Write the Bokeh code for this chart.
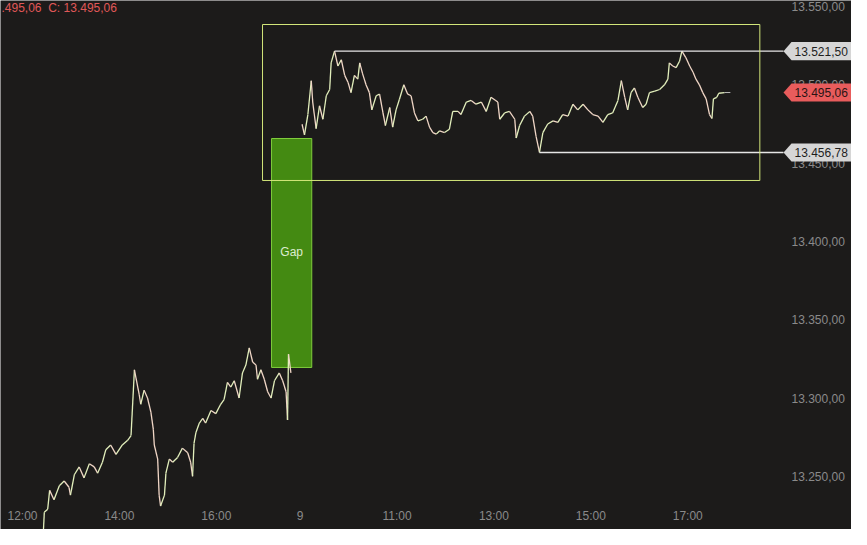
from bokeh.plotting import figure
from bokeh.models import Range1d, FixedTicker, BoxAnnotation, PolyAnnotation, Label
from bokeh.embed import file_html
from bokeh.resources import INLINE

# ---- data ----
# session 1 (previous day), decimal clock hours and prices
day1_hours = [
    12.43, 12.45, 12.52, 12.56, 12.65, 12.76, 12.86, 12.96,
    12.99, 13.07, 13.17, 13.27, 13.38, 13.48, 13.55, 13.65,
    13.72, 13.82, 13.93, 14.06, 14.17, 14.24, 14.31, 14.41,
    14.44, 14.51, 14.58, 14.65, 14.70, 14.72, 14.79, 14.82,
    14.85, 14.93, 14.96, 15.03, 15.10, 15.20, 15.30, 15.41,
    15.47, 15.51, 15.54, 15.58, 15.65, 15.72, 15.78, 15.89,
    15.99, 16.09, 16.16, 16.23, 16.30, 16.37, 16.47, 16.54,
    16.61, 16.68, 16.75, 16.82, 16.85, 16.92, 16.99, 17.06,
    17.13, 17.20, 17.30, 17.37, 17.44, 17.47, 17.49, 17.54,
]
day1_prices = [
    13214, 13227, 13229, 13241, 13235, 13244, 13247, 13243,
    13238, 13251, 13256, 13249, 13258, 13256, 13252, 13259,
    13267, 13270, 13264, 13270, 13273, 13276, 13318, 13302,
    13296, 13305, 13300, 13291, 13280, 13270, 13261, 13238,
    13231, 13238, 13252, 13261, 13259, 13262, 13268, 13265,
    13259, 13250, 13271, 13278, 13284, 13287, 13284, 13292,
    13290, 13296, 13299, 13310, 13307, 13311, 13300, 13316,
    13321, 13332, 13323, 13321, 13312, 13318, 13312, 13304,
    13300, 13311, 13316, 13311, 13304, 13286, 13328, 13316,
]
# session 2 (the 9th)
day2_hours = [
    9.04, 9.09, 9.16, 9.23, 9.26, 9.33, 9.40, 9.47,
    9.54, 9.61, 9.64, 9.71, 9.78, 9.85, 9.92, 9.99,
    10.05, 10.12, 10.19, 10.23, 10.29, 10.36, 10.43, 10.48,
    10.57, 10.64, 10.71, 10.76, 10.85, 10.91, 10.98, 11.05,
    11.14, 11.22, 11.29, 11.36, 11.43, 11.53, 11.60, 11.67,
    11.74, 11.81, 11.88, 11.98, 12.08, 12.15, 12.26, 12.32,
    12.43, 12.53, 12.63, 12.74, 12.84, 12.94, 13.08, 13.12,
    13.22, 13.32, 13.43, 13.46, 13.53, 13.63, 13.74, 13.80,
    13.87, 13.94, 14.01, 14.11, 14.22, 14.32, 14.42, 14.53,
    14.63, 14.73, 14.84, 14.94, 15.04, 15.15, 15.25, 15.35,
    15.45, 15.56, 15.63, 15.70, 15.76, 15.83, 15.90, 15.97,
    16.07, 16.14, 16.21, 16.32, 16.42, 16.52, 16.59, 16.62,
    16.69, 16.76, 16.83, 16.88, 16.96, 17.04, 17.11, 17.17,
    17.24, 17.31, 17.38, 17.45, 17.50, 17.53, 17.60, 17.64,
    17.76,
]
day2_prices = [
    13474.8, 13468, 13481, 13502.6, 13489, 13472, 13486.6, 13478,
    13493, 13497, 13514, 13521.5, 13512, 13516, 13506, 13501.5,
    13495, 13506, 13503.6, 13514, 13507, 13500, 13495, 13484,
    13493, 13494, 13482, 13474, 13485.5, 13473, 13484, 13490.8,
    13500, 13494, 13493, 13482, 13477, 13478, 13480, 13473,
    13469.5, 13468.5, 13470.6, 13469.5, 13471.6, 13483, 13483, 13481,
    13489, 13490, 13487.6, 13489, 13483, 13492, 13489, 13478,
    13482, 13483, 13478, 13466, 13474, 13480, 13483, 13480,
    13467, 13456.78, 13469.5, 13475, 13477, 13476, 13481, 13480,
    13487.6, 13484, 13487.6, 13484, 13481, 13480, 13476, 13481,
    13482, 13490, 13502.6, 13492, 13484, 13495, 13498, 13492,
    13485.5, 13487.6, 13495, 13496, 13497, 13500, 13503.6, 13514,
    13512, 13511, 13515, 13521.5, 13517.4, 13512, 13508, 13503.6,
    13500, 13495, 13491, 13481, 13478.5, 13491, 13492, 13494.6,
    13495.06,
]

high_price = 13521.50
high_time = 9.71          # session 2
low_price = 13456.78
low_time = 13.94          # session 2
last_price = 13495.06

gap_bottom = 13319.5
gap_top = 13465.7
range_box_bottom = 13438.9
range_box_top = 13538.5

y_ticks = [13250, 13300, 13350, 13400, 13450, 13500, 13550]
x_tick_labels = ["12:00", "14:00", "16:00", "9", "11:00", "13:00", "15:00", "17:00"]
x_tick_session = [1, 1, 1, 2, 2, 2, 2, 2]
x_tick_hours = [12, 14, 16, 9, 11, 13, 15, 17]

# ---- continuous trading-time axis ----
S2_OFFSET = 5.73
PX_PER_H = 48.45
def t1(h):
    return h - 12.0
def t2(h):
    return h - 9.0 + S2_OFFSET

def fmt(v):
    s = f"{v:,.2f}"
    return s.replace(",", "X").replace(".", ",").replace("X", ".")

BG = "#1c1b1a"
FONT = "Liberation Sans"

XMIN, XMAX = -0.454, 17.110
YMIN, YMAX = 13216.03, 13553.83

p = figure(width=851, height=529, output_backend="svg", toolbar_location=None,
           x_range=Range1d(XMIN, XMAX), y_range=Range1d(YMIN, YMAX),
           y_axis_location="right",
           background_fill_color=BG, border_fill_color=BG,
           min_border_left=0, min_border_top=0, min_border_right=0, min_border_bottom=0)
p.outline_line_color = None
p.grid.visible = False

# axes (drawn inside the plotting area, as in the reference)
xt = [t1(h) if s == 1 else t2(h) for h, s in zip(x_tick_hours, x_tick_session)]
p.xaxis.ticker = FixedTicker(ticks=xt)
p.xaxis.major_label_overrides = {v: l for v, l in zip(xt, x_tick_labels)}
p.yaxis.ticker = FixedTicker(ticks=y_ticks)
p.yaxis.major_label_overrides = {v: fmt(v) for v in y_ticks}
for ax in (p.xaxis[0], p.yaxis[0]):
    ax.axis_line_color = None
    ax.major_tick_line_color = None
    ax.minor_tick_line_color = None
    ax.major_tick_out = 0
    ax.major_tick_in = 0
    ax.major_label_text_color = "#8a8a8a"
    ax.major_label_text_font = FONT
    ax.major_label_text_font_size = "12px"
p.xaxis.major_label_standoff = 1
p.yaxis.major_label_standoff = 5
p.xaxis.fixed_location = 13550 - (515 - 14) / 1.566
AXIS_X = (794 - 30) / PX_PER_H
p.yaxis.fixed_location = AXIS_X

# gap rectangle
p.quad(left=[t1(17.14)], right=[t2(9.24)], bottom=[gap_bottom], top=[gap_top],
       fill_color="#448a12", line_color="#7fcc3c", line_width=1)
p.add_layout(Label(x=(t1(17.14) + t2(9.24)) / 2, y=13393.5, text="Gap",
                   text_align="center", text_baseline="middle",
                   text_color="#dcecd0", text_font=FONT, text_font_size="12px"))

# range box
p.add_layout(BoxAnnotation(left=t1(16.954), right=t2(18.488),
                           bottom=range_box_bottom, top=range_box_top,
                           fill_alpha=0, line_color="#d2e67a", line_alpha=1, line_width=1))

# price series drawn as coloured segments
def draw(ts, ps):
    x0, y0, x1, y1, cols = [], [], [], [], []
    for i in range(len(ts) - 1):
        x0.append(ts[i]); y0.append(ps[i]); x1.append(ts[i + 1]); y1.append(ps[i + 1])
        cols.append("#e2efbc" if ps[i + 1] >= ps[i] else "#f0d6c6")
    p.segment(x0, y0, x1, y1, line_color=cols, line_width=1.3)

draw([t1(h) for h in day1_hours], day1_prices)
draw([t2(h) for h in day2_hours], day2_prices)
p.segment([t2(day2_hours[-1])], [last_price], [t2(day2_hours[-1]) + 0.12], [last_price],
          line_color="#bbbbbb", line_width=1)

# high / low lines
tip = AXIS_X - 3 / PX_PER_H
body = AXIS_X + 5 / PX_PER_H
p.segment([t2(high_time), t2(low_time)], [high_price, low_price], [tip, tip], [high_price, low_price],
          line_color="#e6e6e6", line_width=1.3)

# price tags
half = 5.75
for v, col, tcol in [(high_price, "#d6d6d6", "#1e1e1e"), (last_price, "#e85c5c", "#2a1414"),
                     (low_price, "#d6d6d6", "#1e1e1e")]:
    p.add_layout(PolyAnnotation(xs=[tip, body, XMAX + 1, XMAX + 1, body],
                                ys=[v, v + half, v + half, v - half, v - half],
                                fill_color=col, fill_alpha=1, line_color=None))
    p.add_layout(Label(x=body + 3 / PX_PER_H, y=v, text=fmt(v), text_align="left",
                       text_baseline="middle",
                       text_color=tcol, text_font=FONT, text_font_size="12px"))

# top-left OHLC text
p.add_layout(Label(x=XMIN, y=YMAX, text=".495,06\u00a0\u00a0C: 13.495,06", text_align="left",
                   text_baseline="top", text_color="#e05858", text_font=FONT,
                   text_font_size="12px", x_offset=1))

open("out.html", "w").write(file_html(p, INLINE))
